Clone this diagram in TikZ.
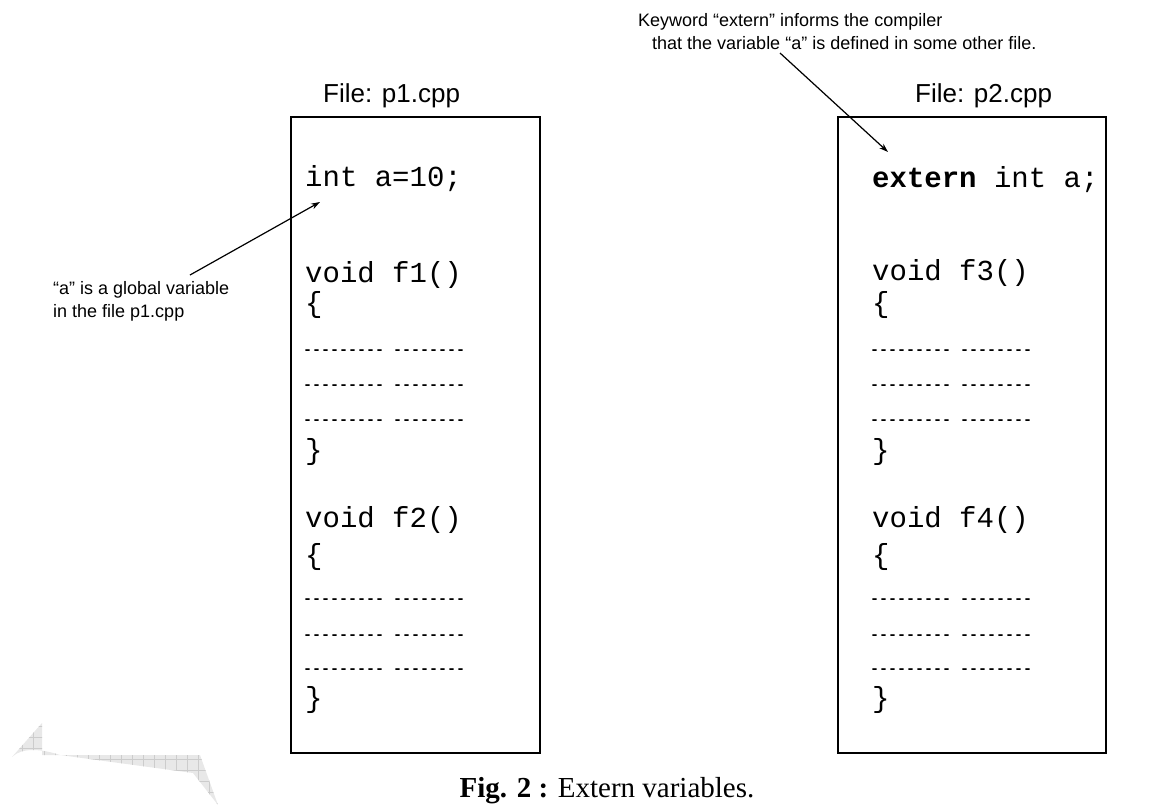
\documentclass[tikz,border=0pt]{standalone}
\usepackage{fontspec}
\setmainfont{Liberation Serif}
\newfontfamily\codefont{Liberation Mono}
\newfontfamily\notefont{Liberation Sans}
\usetikzlibrary{arrows.meta}
\tikzset{
  code/.style={anchor=base west,inner sep=0pt,font={\codefont\fontsize{29pt}{34pt}\selectfont}},
  dashrow/.style={anchor=base west,inner sep=0pt,font={\codefont\bfseries\fontsize{15pt}{18pt}\selectfont}},
  filetitle/.style={anchor=base west,inner sep=0pt,font={\notefont\fontsize{26pt}{30pt}\selectfont}},
  note/.style={anchor=base west,inner sep=0pt,font={\notefont\fontsize{18pt}{22pt}\selectfont}},
  filebox/.style={draw,line width=2.5pt,minimum height=636pt,inner sep=0pt},
  pointer/.style={line width=1.2pt,-{Stealth[length=9pt,width=6pt]}}}

\begin{document}
\begin{tikzpicture}[x=1pt,y=-1pt]
\useasboundingbox (0,0) rectangle (1163,807);
% grey arrow fragment, bottom left
\begin{scope}
\clip (12,757) .. controls (22,747) and (42,749) .. (60,755) -- (193,773) -- (218,805) -- (200,755) -- (42,755) -- (42,723) -- cycle;
\fill [gray!18] (0,700) rectangle (240,807);
\draw [gray!40,line width=0.6pt,step=11pt] (0,700) grid (240,807);
\end{scope}
% file p1.cpp
\node [filetitle] (t1) at (323,102) {File: p1.cpp};
\node [filebox,minimum width=249pt] (box1) at (415.5,435) {};
\node [code] (a1) at (305,186) {int a=10;};
\node [code] (f1) at (305,282) {void f1()};
\node [code] (o1) at (305,312) {\{};
\node [dashrow] (d11) at (303,354) {--------- --------};
\node [dashrow] (d12) at (303,389) {--------- --------};
\node [dashrow] (d13) at (303,424) {--------- --------};
\node [code] (c1) at (305,459) {\}};
\node [code] (f2) at (305,527) {void f2()};
\node [code] (o2) at (305,564) {\{};
\node [dashrow] (d21) at (303,603) {--------- --------};
\node [dashrow] (d22) at (303,639) {--------- --------};
\node [dashrow] (d23) at (303,673) {--------- --------};
\node [code] (c2) at (305,707) {\}};
% file p2.cpp
\node [filetitle] (t2) at (915,102) {File: p2.cpp};
\node [filebox,minimum width=268pt] (box2) at (972,435) {};
\node [code] (a2) at (872,187) {\textbf{extern} int a;};
\node [code] (f3) at (872,280) {void f3()};
\node [code] (o3) at (872,312) {\{};
\node [dashrow] (d31) at (870,354) {--------- --------};
\node [dashrow] (d32) at (870,389) {--------- --------};
\node [dashrow] (d33) at (870,424) {--------- --------};
\node [code] (c3) at (872,459) {\}};
\node [code] (f4) at (872,527) {void f4()};
\node [code] (o4) at (872,564) {\{};
\node [dashrow] (d41) at (870,603) {--------- --------};
\node [dashrow] (d42) at (870,639) {--------- --------};
\node [dashrow] (d43) at (870,673) {--------- --------};
\node [code] (c4) at (872,707) {\}};
% notes
\node [note] (n1) at (638,26) {Keyword “extern” informs the compiler};
\node [note] (n2) at (652,49) {that the variable “a” is defined in some other file.};
\node [note] (n3) at (53,294) {“a” is a global variable};
\node [note] (n4) at (53,317) {in the file p1.cpp};
\coordinate (n2tail) at (780,53);
\coordinate (a2tip) at (888,152);
\coordinate (n3tail) at (190,275);
\coordinate (a1tip) at (320,202);
\draw [pointer] (n2tail) -- (a2tip);
\draw [pointer] (n3tail) -- (a1tip);
% caption
\node [anchor=base,inner sep=0pt,font={\fontsize{29pt}{34pt}\selectfont}] (cap) at (607,797) {\textbf{Fig. 2 :} Extern variables.};
\end{tikzpicture}
\end{document}
